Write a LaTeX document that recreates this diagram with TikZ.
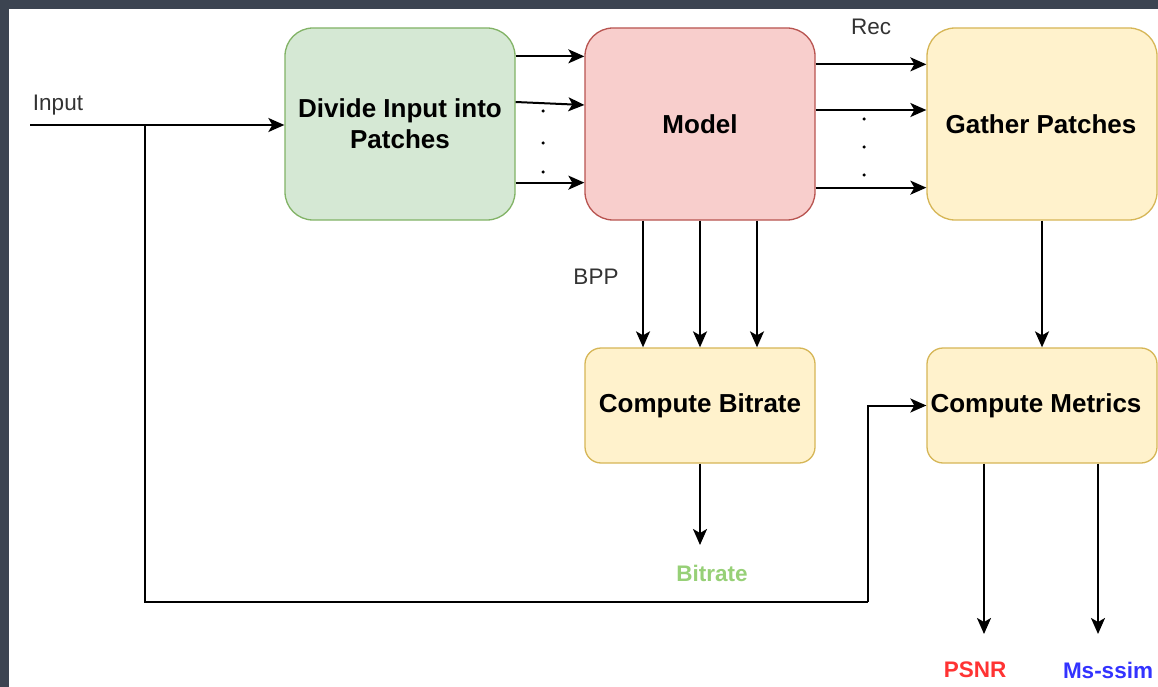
\documentclass[tikz,border=0pt]{standalone}
\usepackage{fontspec}
\setmainfont{Liberation Sans}
\usetikzlibrary{arrows.meta,calc}
\definecolor{frame}{HTML}{3C4451}
\definecolor{greenfill}{HTML}{D5E8D4}
\definecolor{greenline}{HTML}{82B366}
\definecolor{redfill}{HTML}{F8CECC}
\definecolor{redline}{HTML}{B85450}
\definecolor{yellowfill}{HTML}{FFF2CC}
\definecolor{yellowline}{HTML}{D6B656}
\definecolor{labelgrey}{HTML}{333333}
\definecolor{outgreen}{HTML}{97D077}
\definecolor{outred}{HTML}{FF3333}
\definecolor{outblue}{HTML}{3333FF}
\tikzset{
  block/.style={draw, line width=1.3pt, align=center, inner sep=0pt,
    font=\fontsize{26}{32}\selectfont\bfseries},
  bigblock/.style={block, minimum width=230pt, minimum height=192pt, rounded corners=28pt},
  smallblock/.style={block, minimum width=230pt, minimum height=115pt, rounded corners=16pt},
  arr/.style={draw=black, line width=2pt, -{Stealth[length=16pt,width=14pt,inset=4pt]}},
  wire/.style={draw=black, line width=2pt},
  lbl/.style={text=labelgrey, font=\fontsize{22.5}{26}\selectfont, inner sep=0pt},
  outlbl/.style={font=\fontsize{22.5}{26}\selectfont\bfseries, inner sep=0pt},
  dot/.style={fill=black, circle, inner sep=0pt, minimum size=3.5pt}
}
\begin{document}
\begin{tikzpicture}[x=1pt, y=-1pt]
  % frame and canvas
  \fill[frame] (0,0) rectangle (1158,687);
  \fill[white] (9,9) rectangle (1158,687);
  \useasboundingbox (0,0) rectangle (1158,687);

  % blocks
  \node[bigblock, fill=greenfill, draw=greenline] (div) at (400,124) {\rule{0pt}{0pt}\raisebox{-1pt}{Divide Input into}\\Patches};
  \node[bigblock, fill=redfill, draw=redline] (model) at (700,124) {Model};
  \node[bigblock, fill=yellowfill, draw=yellowline] (gather) at (1042,124) {\hspace*{-2pt}Gather Patches};
  \node[smallblock, fill=yellowfill, draw=yellowline] (bit) at (700,405.5) {Compute Bitrate};
  \node[smallblock, fill=yellowfill, draw=yellowline] (met) at (1042,405.5) {\hspace*{-12pt}Compute Metrics};

  % input line and its branch to the metrics block
  \coordinate (inp) at (30,125);
  \coordinate (br) at (145,125);
  \coordinate (c1) at (145,602);
  \coordinate (c2) at (868,602);
  \node[lbl] (inlbl) at (58,105) {Input};
  \draw[arr] (inp) -- (inp -| div.west);
  \draw[wire] (br) -- (c1) -- (c2);
  \draw[arr] (c2) |- (met.west);

  % patches into the model
  \draw[arr] ([yshift=-29pt]div.north east) -- ([yshift=-29pt]model.north west);
  \draw[arr] ([yshift=22pt]div.east) -- ([yshift=19pt]model.west);
  \draw[arr] ([yshift=38pt]div.south east) -- ([yshift=38pt]model.south west);
  \node[dot] (d1) at (543,111) {};
  \node[dot] (d2) at (543,143) {};
  \node[dot] (d3) at (543,172) {};

  % reconstructed patches out of the model
  \draw[arr] ([yshift=-37pt]model.north east) -- ([yshift=-37pt]gather.north west);
  \draw[arr] ([yshift=14pt]model.east) -- ([yshift=14pt]gather.west);
  \draw[arr] ([yshift=33pt]model.south east) -- ([yshift=33pt]gather.south west);
  \node[dot] (e1) at (864,119) {};
  \node[dot] (e2) at (864,147) {};
  \node[dot] (e3) at (864,175) {};
  \node[lbl] (rec) at (871,27) {Rec};

  % bits per pixel into the bitrate block
  \draw[arr] ([xshift=-57pt]model.south) -- ([xshift=-57pt]bit.north);
  \draw[arr] (model.south) -- (bit.north);
  \draw[arr] ([xshift=57pt]model.south) -- ([xshift=57pt]bit.north);
  \node[lbl] (bpp) at (596,277) {BPP};

  % gathered image into the metrics block
  \draw[arr] (gather.south) -- (met.north);

  % outputs
  \coordinate (bo) at (700,545);
  \draw[arr] (bit.south) -- (bo);
  \node[outlbl, text=outgreen] (bitout) at (712,573) {Bitrate};

  \coordinate (po) at (984,634);
  \coordinate (mo) at (1098,634);
  \draw[arr] ([xshift=-58pt]met.south) -- (po);
  \draw[arr] ([xshift=56pt]met.south) -- (mo);
  \node[outlbl, text=outred] (psnr) at (975,670) {PSNR};
  \node[outlbl, text=outblue] (msssim) at (1108,670) {Ms-ssim};
\end{tikzpicture}
\end{document}
